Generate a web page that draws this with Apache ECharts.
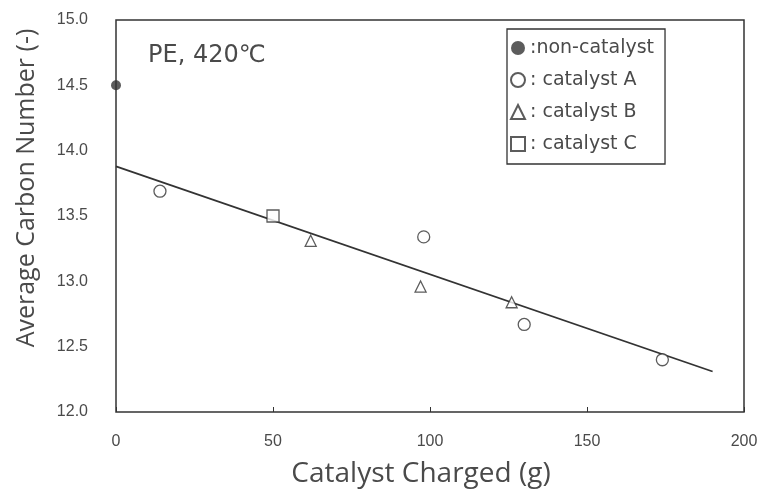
<!DOCTYPE html>
<html>
<head>
<meta charset="utf-8">
<script src="https://cdn.jsdelivr.net/npm/echarts@6/dist/echarts.min.js"></script>
<style>html,body{margin:0;padding:0;background:#fff;}#c{width:764px;height:493px;}</style>
</head>
<body>
<div id="c"></div>
<script>
var seriesNames = ['non-catalyst', 'catalyst A', 'catalyst B', 'catalyst C'];
var nonCatalyst = [[0, 14.5]];
var catalystA = [[14, 13.69], [98, 13.34], [130, 12.67], [174, 12.4]];
var catalystB = [[62, 13.31], [97, 12.96], [126, 12.84]];
var catalystC = [[50, 13.5]];
var fitLine = [[0, 13.88], [190, 12.31]];
var xTicks = [0, 50, 100, 150, 200];
var yTicks = [12.0, 12.5, 13.0, 13.5, 14.0, 14.5, 15.0];

var ink = '#333';
var txt = '#4a4a4a';
var chart = echarts.init(document.getElementById('c'));
var hollow = {color: '#fff', borderColor: ink, borderWidth: 1.3};
chart.setOption({
  backgroundColor: '#fff',
  animation: false,
  title: {
    text: 'PE, 420℃', left: 143, top: 39,
    textStyle: {fontFamily: 'DejaVu Sans', fontSize: 24, fontWeight: 'normal', color: txt}
  },
  legend: {
    data: seriesNames,
    orient: 'vertical', left: 507, top: 29,
    itemWidth: 14, itemHeight: 14, itemGap: 12,
    padding: [9, 11, 10, 3],
    borderColor: ink, borderWidth: 1.3,
    formatter: function (n) { return (n === 'non-catalyst' ? ':' : ': ') + n; },
    textStyle: {fontFamily: 'DejaVu Sans', fontSize: 19, lineHeight: 20, color: txt}
  },
  grid: {left: 116, right: 20, top: 20, bottom: 80, show: true, borderColor: ink, borderWidth: 1.5, backgroundColor: 'transparent'},
  xAxis: {
    type: 'value', min: 0, max: 200, interval: 50,
    name: 'Catalyst Charged (g)', nameLocation: 'middle', nameGap: 48,
    nameTextStyle: {fontFamily: 'Open Sans', fontSize: 28, color: txt, padding: [0, 18, 0, 0]},
    axisLine: {show: false},
    axisTick: {show: true, inside: true, length: 5, lineStyle: {color: ink}},
    axisLabel: {fontFamily: 'Liberation Sans', fontSize: 16, color: txt, margin: 22,
      formatter: function (v) { return xTicks.indexOf(v) >= 0 ? String(v) : ''; }},
    splitLine: {show: false}
  },
  yAxis: {
    type: 'value', min: 12, max: 15, interval: 0.5,
    name: 'Average Carbon Number (-)', nameLocation: 'middle', nameGap: 77,
    nameTextStyle: {fontFamily: 'Open Sans', fontSize: 25, color: txt, padding: [0, 0, 0, 56]},
    axisLine: {show: false},
    axisTick: {show: false},
    axisLabel: {fontFamily: 'Liberation Sans', fontSize: 16, color: txt, margin: 28,
      formatter: function (v) { return yTicks.indexOf(v) >= 0 ? v.toFixed(1) : ''; }},
    splitLine: {show: false}
  },
  series: [
    {name: 'fit', type: 'line', data: fitLine, showSymbol: false, lineStyle: {color: ink, width: 1.8}, z: 1},
    {name: 'non-catalyst', type: 'scatter', data: nonCatalyst, symbol: 'circle', symbolSize: 10, itemStyle: {color: ink}, z: 3},
    {name: 'catalyst A', type: 'scatter', data: catalystA, symbol: 'circle', symbolSize: 12, itemStyle: hollow, z: 3},
    {name: 'catalyst B', type: 'scatter', data: catalystB, symbol: 'triangle', symbolSize: 11, itemStyle: hollow, z: 3},
    {name: 'catalyst C', type: 'scatter', data: catalystC, symbol: 'rect', symbolSize: 12, itemStyle: hollow, z: 3}
  ]
});
</script>
</body>
</html>
